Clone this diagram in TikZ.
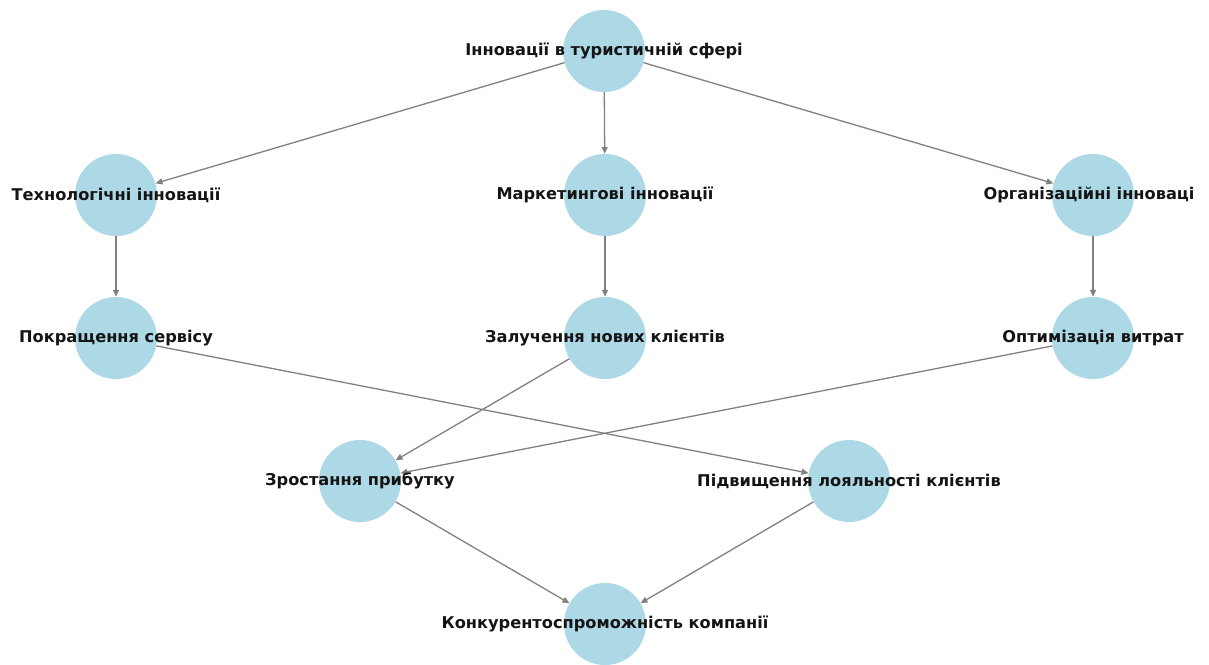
\documentclass[tikz,border=0pt]{standalone}
\usepackage{fontspec}
\setmainfont{DejaVu Sans}
\usepackage{tikz}
\usetikzlibrary{arrows.meta}
\definecolor{bubble}{RGB}{173,216,230}
\definecolor{edgegray}{RGB}{128,128,128}

\begin{document}
\begin{tikzpicture}[x=1pt,y=-1pt,
        bub/.style={circle,fill=bubble,minimum size=82pt,inner sep=0pt},
        lab/.style={font=\bfseries\fontsize{16.2}{18}\selectfont,text=black!92},
        edge/.style={draw=edgegray,line width=1.3pt,-{Triangle[length=7pt,width=6pt]}}]
        \useasboundingbox (0,0) rectangle (1209,664);

        \node[bub] (root) at (604,51) {};
        \node[bub] (tech) at (116,195) {};
        \node[bub] (mark) at (605,195) {};
        \node[bub] (org) at (1093,195) {};
        \node[bub] (serv) at (116,338) {};
        \node[bub] (clients) at (605,338) {};
        \node[bub] (costs) at (1093,338) {};
        \node[bub] (profit) at (360,481) {};
        \node[bub] (loyal) at (849,481) {};
        \node[bub] (comp) at (605,624) {};

        \draw[edge] (root)--(tech);
        \draw[edge] (root)--(mark);
        \draw[edge] (root)--(org);
        \draw[edge] (tech)--(serv);
        \draw[edge] (mark)--(clients);
        \draw[edge] (org)--(costs);
        \draw[edge] (serv)--(loyal);
        \draw[edge] (clients)--(profit);
        \draw[edge] (costs)--(profit);
        \draw[edge] (profit)--(comp);
        \draw[edge] (loyal)--(comp);

        \node[lab] at (root) {Інновації в туристичній сфері};
        \node[lab] at (tech) {Технологічні інновації};
        \node[lab] at (mark) {Маркетингові інновації};
        \node[lab] at ([xshift=-4pt]org.center) {Організаційні інноваці};
        \node[lab] at (serv) {Покращення сервісу};
        \node[lab] at (clients) {Залучення нових клієнтів};
        \node[lab] at (costs) {Оптимізація витрат};
        \node[lab] at (profit) {Зростання прибутку};
        \node[lab] at (loyal) {Підвищення лояльності клієнтів};
        \node[lab] at (comp) {Конкурентоспроможність компанії};
    \end{tikzpicture}
\end{document}
